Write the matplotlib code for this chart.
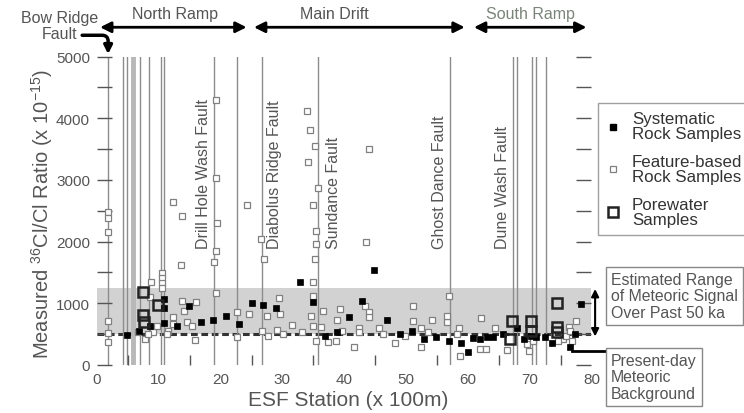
import numpy as np
import matplotlib
matplotlib.use("Agg")
import matplotlib.pyplot as plt
from matplotlib.lines import Line2D
from matplotlib.ticker import MultipleLocator, FixedLocator

plt.rcParams['font.family'] = ['Liberation Sans', 'DejaVu Sans']
plt.rcParams['mathtext.fontset'] = 'custom'
plt.rcParams['mathtext.rm'] = 'Liberation Sans'
plt.rcParams['mathtext.it'] = 'Liberation Sans:italic'

# ---- data: ESF station (x 100 m) and 36Cl/Cl ratio (x 1e-15) ----
sys_x = [4.8, 6.8, 8.6, 10.8, 10.8, 10.9, 12.9, 14.9, 16.9, 18.8, 20.8, 23.0, 25.0,
         26.9, 29.0, 32.8, 34.9, 36.9, 38.9, 40.7, 42.9, 44.9, 46.9, 49.0, 50.9,
         52.9, 54.9, 57.0, 58.9, 60.0, 60.9, 62.0, 63.1, 64.1, 65.7, 67.9, 69.1,
         70.3, 71.1, 72.5, 73.6, 76.5, 77.3, 78.3]
sys_y = [485, 555, 636, 1060, 920, 675, 636, 961, 701, 733, 790, 663, 1005,
         977, 918, 1341, 1016, 473, 538, 772, 1043, 1530, 733, 500, 555,
         419, 457, 392, 354, 203, 431, 419, 447, 447, 500, 593, 419,
         473, 447, 447, 354, 285, 500, 990]

feat_x = [1.8, 1.8, 1.8, 12.3, 13.8, 13.6, 19.3, 19.3, 19.4, 19.2, 18.9, 19.2,
          24.3, 26.6, 27.1, 34.0, 34.5, 35.2, 34.2, 35.8, 35.0, 35.4, 35.4, 35.2,
          35.0, 35.0, 44.0, 43.6,
          1.8, 1.8, 1.7, 8.7, 10.5, 10.5, 10.5, 10.5, 8.6, 13.7, 14.1, 16.1,
          12.3, 14.5, 15.3, 15.9, 7.8, 9.1, 9.7, 11.5, 12.3, 11.3, 6.6, 8.2,
          22.6, 22.6, 24.6, 26.7, 27.5, 27.7, 29.5, 29.6, 29.2, 30.1, 31.5, 33.1,
          34.7, 34.9, 35.4, 36.5, 36.3, 37.4, 38.7, 38.8, 39.3, 39.6,
          43.3, 44.0, 44.0, 42.4, 42.4, 41.6, 45.7, 46.2, 48.3, 49.8, 51.1, 51.2,
          52.5, 53.5, 54.2, 52.4, 57.0, 56.7, 56.7, 58.6, 58.7, 58.2,
          62.2, 64.4, 61.9, 63.0, 66.3, 69.5, 69.9, 70.6, 76.3, 77.5, 75.4, 75.9,
          76.8, 76.6, 74.6]
feat_y = [2480, 2380, 2150, 2642, 2415, 1625, 4290, 3030, 2300, 1846, 1660, 1163,
          2598, 2046, 1709, 4120, 3806, 3546, 3285, 2865, 2598, 2164, 1965, 1709,
          1351, 1124, 3493, 1992,
          717, 517, 366, 1345, 1490, 1410, 1330, 1250, 1097, 1043, 880, 1016,
          772, 701, 636, 403, 420, 528, 636, 555, 663, 500, 528, 500,
          864, 447, 826, 555, 799, 473, 1090, 826, 571, 500, 647, 538,
          799, 636, 392, 880, 610, 376, 392, 733, 907, 555,
          961, 854, 772, 593, 528, 285, 593, 500, 354, 473, 717, 951,
          593, 538, 728, 285, 1124, 691, 799, 593, 138, 500,
          756, 593, 257, 257, 246, 338, 229, 392, 610, 717, 419, 473,
          392, 555, 392]

pore_x = [7.4, 9.9, 7.4, 7.6, 67.1, 66.8, 70.3, 70.3, 74.5, 74.5, 74.4]
pore_y = [1189, 977, 800, 700, 717, 419, 717, 555, 1005, 620, 540]

fault_x = [1.8, 4.2, 4.8, 7.0, 8.4, 10.3, 10.8, 18.9, 22.6, 26.7, 35.7,
           57.1, 67.3, 67.9, 70.4, 71.0, 72.6]
fault_zone_x = 5.85
fault_names = ["Drill Hole Wash Fault", "Diabolus Ridge Fault", "Sundance Fault",
               "Ghost Dance Fault", "Dune Wash Fault"]
fault_name_x = [17.2, 28.8, 38.2, 55.5, 65.6]

sections = ["North Ramp", "Main Drift", "South Ramp"]
section_start = [0.5, 25.4, 61.0]
section_end = [24.2, 59.5, 79.2]
section_label_x = [12.7, 38.4, 70.1]

meteoric_range = (500, 1250)
background = 500

W, H = 744, 414
def fxy(px, py):
    return px / W, 1 - py / H

TXT = '#555555'

fig = plt.figure(figsize=(W / 100, H / 100), dpi=100)
ax = fig.add_axes([97 / W, 1 - 365.8 / H, (591.4 - 97) / W, (365.8 - 57.6) / H])
ax.set_xlim(0, 80)
ax.set_ylim(0, 5000)
for s in ax.spines.values():
    s.set_visible(False)

# range of meteoric signal and present-day background
ax.axhspan(*meteoric_range, color='#d2d2d2', lw=0, zorder=0)
ax.axhline(background, color='#333333', lw=2.2, dashes=(2.2, 1.2), zorder=1)

# faults
ax.axvline(fault_zone_x, color='#b8b8b8', lw=3.5, zorder=1)
for fx in fault_x:
    ax.axvline(fx, color='#8c8c8c', lw=1.0, zorder=1)
for name, nx in zip(fault_names, fault_name_x):
    ax.text(nx, 1900, name, rotation=90, ha='center', va='bottom',
            fontsize=11.5, color=TXT, zorder=2)

# samples
ax.plot(feat_x, feat_y, ls='none', marker='s', ms=4.2, mfc='white', mec='#808080',
        mew=0.9, zorder=3)
ax.plot(sys_x, sys_y, ls='none', marker='s', ms=4.6, mfc='black', mec='black',
        mew=0.5, zorder=4)
ax.plot(pore_x, pore_y, ls='none', marker='s', ms=7.5, mfc='none', mec='#222222',
        mew=1.8, zorder=5)

# ticks
ax.xaxis.set_major_locator(MultipleLocator(10))
ax.xaxis.set_minor_locator(FixedLocator(np.arange(5, 80, 10)))
ax.yaxis.set_major_locator(MultipleLocator(1000))
ax.yaxis.set_minor_locator(MultipleLocator(500))
ax.tick_params(axis='x', which='major', length=0, pad=5, labelsize=11, labelcolor=TXT)
ax.tick_params(axis='x', which='minor', direction='in', length=7, width=1, color='#555555')
ax.tick_params(axis='y', which='both', direction='in', length=11, width=1,
               color='#555555', right=True, pad=5, labelsize=11, labelcolor=TXT)

fig.text(*fxy(42, 214), r'Measured $^{36}$Cl/Cl Ratio (x 10$^{-15}$)', rotation=90,
         ha='center', va='center', fontsize=14.5, color=TXT)
fig.text(*fxy(348, 401), 'ESF Station (x 100m)', ha='center', va='center',
         fontsize=15, color=TXT)

# sections along the ESF
for name, x0, x1, lx in zip(sections, section_start, section_end, section_label_x):
    ax.annotate('', xy=(x1, 5476), xytext=(x0, 5476), annotation_clip=False,
                arrowprops=dict(arrowstyle='<|-|>', color='black', lw=2,
                                mutation_scale=16, shrinkA=0, shrinkB=0))
    ax.text(lx, 5700, name, ha='center', va='center', fontsize=11.5,
            color='#7a857a' if name == 'South Ramp' else TXT, clip_on=False)

fig.text(*fxy(59.5, 26.5), 'Bow Ridge\nFault', ha='center', va='center',
         fontsize=11.5, color=TXT, linespacing=1.05)
ax.annotate('', xy=(1.8, 5040), xytext=(-2.4, 5346), annotation_clip=False,
            arrowprops=dict(arrowstyle='-|>', color='black', lw=2.5, mutation_scale=12,
                            shrinkA=0, shrinkB=0,
                            connectionstyle='angle,angleA=0,angleB=90,rad=6'))

# legend
handles = [Line2D([], [], ls='none', marker='s', ms=4.6, mfc='black', mec='black'),
           Line2D([], [], ls='none', marker='s', ms=4.2, mfc='white', mec='#808080', mew=0.9),
           Line2D([], [], ls='none', marker='s', ms=7.5, mfc='none', mec='#222222', mew=1.8)]
labels = ['Systematic\nRock Samples', 'Feature-based\nRock Samples', 'Porewater\nSamples']
leg = fig.legend(handles, labels, loc='upper left', bbox_to_anchor=fxy(598, 104),
                 frameon=True, fancybox=False, fontsize=12.2, labelspacing=0.75,
                 handlelength=0.8, handletextpad=0.7, borderpad=0.5,
                 borderaxespad=0)
leg.get_frame().set_edgecolor('#888888')
leg.get_frame().set_linewidth(1)
for t in leg.get_texts():
    t.set_color('#333333')
    t.set_linespacing(1.0)

box = dict(boxstyle='square,pad=0.3', fc='white', ec='#888888', lw=1)
fig.text(*fxy(611, 297), 'Estimated Range\nof Meteoric Signal\nOver Past 50 ka',
         ha='left', va='center', fontsize=11.4, color=TXT, linespacing=1.12, bbox=box)
fig.text(*fxy(611, 378), 'Present-day\nMeteoric\nBackground',
         ha='left', va='center', fontsize=11.4, color=TXT, linespacing=1.12, bbox=box)

# meteoric range arrow and background pointer
ax.annotate('', xy=(80.6, meteoric_range[1] - 20), xytext=(80.6, meteoric_range[0] - 40),
            annotation_clip=False,
            arrowprops=dict(arrowstyle='<|-|>', color='black', lw=1.5, mutation_scale=11,
                            shrinkA=0, shrinkB=0))
ax.plot([76.9, 82.3], [225, 225], color='black', lw=2, clip_on=False)

fig.savefig('out.png', dpi=100)
